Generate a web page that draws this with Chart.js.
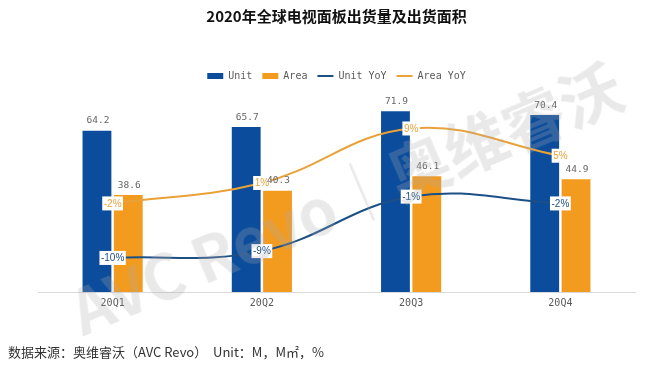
<!DOCTYPE html>
<html>
<head>
<meta charset="utf-8">
<script src="https://cdn.jsdelivr.net/npm/chart.js@4.4.1/dist/chart.umd.min.js"></script>
<style>
    body { margin: 0; background: #fff; }
    #wrap { position: relative; width: 664px; height: 366px; overflow: hidden; }
    #note { position: absolute; left: 8px; top: 342px; font: 13px "Noto Sans CJK SC", sans-serif; color: #333; white-space: nowrap; }
    #mark { position: absolute; left: 345px; top: 196px; transform: translate(-50%, -50%) rotate(-23deg);
            font: bold 62px "Noto Sans CJK SC", sans-serif; color: rgba(170, 170, 170, 0.26);
            white-space: nowrap; pointer-events: none; }
</style>
</head>
<body>
<div id="wrap">
    <canvas id="chart" width="664" height="366"></canvas>
    <div id="mark">AVC Revo│奥维睿沃</div>
    <div id="note">数据来源：奥维睿沃（AVC Revo）&nbsp; Unit：M，M㎡，%</div>
</div>
<script>
// Datos del gráfico
const quarters = ['20Q1', '20Q2', '20Q3', '20Q4'];
const unitValues = [64.2, 65.7, 71.9, 70.4];
const areaValues = [38.6, 40.3, 46.1, 44.9];
const unitYoY = [-10, -9, -1, -2];
const areaYoY = [-2, 1, 9, 5];

const monoFont = '"DejaVu Sans Mono", monospace';

// Etiquetas de valores: cajas de las líneas y luego texto de barras encima
const valueLabels = {
    id: 'valueLabels',
    afterDatasetsDraw(chart) {
        const ctx = chart.ctx;
        ctx.save();
        chart.data.datasets.forEach((ds, i) => {
            if (ds.type !== 'line') return;
            chart.getDatasetMeta(i).data.forEach((el, j) => {
                const txt = ds.data[j] + '%';
                ctx.font = '10px "Liberation Sans", sans-serif';
                const w = ctx.measureText(txt).width + 3;
                const h = 14;
                ctx.fillStyle = '#fff';
                ctx.fillRect(el.x - w / 2, el.y - h / 2, w, h);
                ctx.fillStyle = ds.labelColor;
                ctx.textAlign = 'center';
                ctx.textBaseline = 'middle';
                ctx.fillText(txt, el.x, el.y + 0.5);
            });
        });
        chart.data.datasets.forEach((ds, i) => {
            if (ds.type !== 'bar') return;
            chart.getDatasetMeta(i).data.forEach((el, j) => {
                ctx.font = '9.5px ' + monoFont;
                ctx.fillStyle = '#666';
                ctx.textAlign = 'center';
                ctx.textBaseline = 'bottom';
                ctx.fillText(ds.data[j].toFixed(1), el.x + 1, el.y - 5);
            });
        });
        ctx.restore();
    }
};

new Chart(document.getElementById('chart'), {
    data: {
        labels: quarters,
        datasets: [
            {
                type: 'bar',
                label: 'Unit',
                data: unitValues,
                backgroundColor: '#0b4d9c',
                yAxisID: 'y',
                order: 1,
                pointStyle: 'rect',
                barPercentage: 0.92,
                categoryPercentage: 0.42
            },
            {
                type: 'bar',
                label: 'Area',
                data: areaValues,
                backgroundColor: '#f39b1f',
                yAxisID: 'y',
                order: 1,
                pointStyle: 'rect',
                barPercentage: 0.92,
                categoryPercentage: 0.42
            },
            {
                type: 'line',
                label: 'Unit YoY',
                data: unitYoY,
                borderColor: '#1c4f86',
                backgroundColor: '#1c4f86',
                labelColor: '#1c4f86',
                borderWidth: 2,
                tension: 0.4,
                pointRadius: 0,
                yAxisID: 'y1',
                order: 0,
                pointStyle: 'line'
            },
            {
                type: 'line',
                label: 'Area YoY',
                data: areaYoY,
                borderColor: '#e9a23a',
                backgroundColor: '#e9a23a',
                labelColor: '#e9a23a',
                borderWidth: 2,
                tension: 0.4,
                pointRadius: 0,
                yAxisID: 'y1',
                order: 0,
                pointStyle: 'line'
            }
        ]
    },
    options: {
        responsive: false,
        animation: false,
        layout: {
            padding: { left: 38, right: 29, top: 0, bottom: 52 }
        },
        plugins: {
            title: {
                display: true,
                text: '2020年全球电视面板出货量及出货面积',
                color: '#111',
                font: { family: '"Noto Sans CJK SC", sans-serif', size: 15, weight: 'bold' },
                padding: { top: 7, bottom: 36 }
            },
            legend: {
                display: true,
                labels: {
                    usePointStyle: true,
                    pointStyleWidth: 16,
                    boxHeight: 6,
                    padding: 10,
                    color: '#595959',
                    font: { family: monoFont, size: 10 },
                    sort: (a, b) => a.datasetIndex - b.datasetIndex
                }
            },
            tooltip: { enabled: false }
        },
        scales: {
            x: {
                grid: { display: false, drawTicks: false },
                border: { display: true, color: '#d9d9d9' },
                ticks: { color: '#595959', padding: 5, font: { family: monoFont, size: 10 } }
            },
            y: {
                display: false,
                min: 0,
                max: 80
            },
            y1: {
                display: false,
                position: 'right',
                min: -15,
                max: 14.5
            }
        }
    },
    plugins: [valueLabels]
});
</script>
</body>
</html>
